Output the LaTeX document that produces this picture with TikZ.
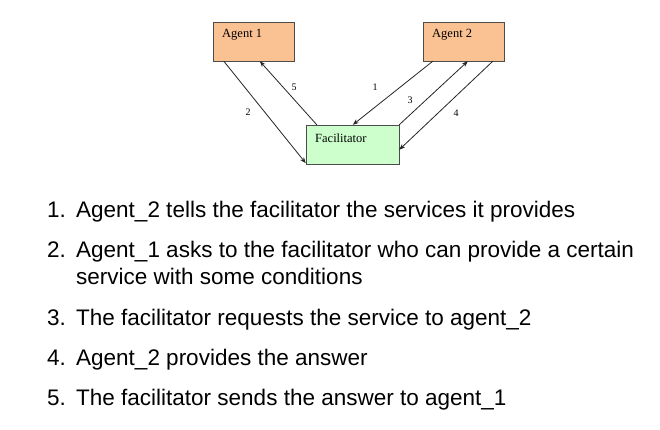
\documentclass[tikz,border=0pt]{standalone}
\usepackage{fontspec}
\setmainfont{Liberation Serif}
\newfontfamily\listfont{Liberation Sans}
\usetikzlibrary{arrows.meta}
\begin{document}
\begin{tikzpicture}[x=1pt,y=-1pt,
  agentbox/.style={draw=black!70,fill=agentfill,minimum width=81pt,minimum height=39pt,inner sep=0pt},
  facbox/.style={draw=black!70,fill=facfill,minimum width=93pt,minimum height=39pt,inner sep=0pt},
  boxtext/.style={font=\fontsize{12.5}{14}\selectfont,anchor=west,inner sep=0pt},
  msg/.style={draw=black!85,line width=0.8pt,-{Stealth[length=6pt,width=4.5pt]}},
  numlabel/.style={font=\fontsize{10}{12}\selectfont,inner sep=0pt},
  item/.style={font=\listfont\fontsize{22.5}{27}\selectfont,anchor=base west,inner sep=0pt}]
\definecolor{agentfill}{HTML}{FAC193}
\definecolor{facfill}{HTML}{CCFFCC}
\useasboundingbox (0,0) rectangle (660,429);
\fill[white] (0,0) rectangle (660,429);
% boxes
\node[agentbox] (a1) at (253.5,41.5) {};
\node[agentbox] (a2) at (463.5,41.5) {};
\node[facbox] (fac) at (352.5,144.5) {};
\node[boxtext] (a1t) at (222,35) {Agent 1};
\node[boxtext] (a2t) at (432,35) {Agent 2};
\node[boxtext] (fact) at (315,138) {Facilitator};
% connector endpoints
\path (a1.south west) ++(11,0) coordinate (a1p2);
\path (a1.south west) ++(47,0) coordinate (a1p5);
\path (a2.south west) ++(10,0) coordinate (a2p1);
\path (a2.south west) ++(45,0) coordinate (a2p3);
\path (a2.south west) ++(70,0) coordinate (a2p4);
\path (fac.south west) ++(0,-1) coordinate (fp2);
\path (fac.north west) ++(11,0) coordinate (fp5);
\path (fac.north west) ++(47,0) coordinate (fp1);
\path (fac.north east) coordinate (fp3);
\path (fac.north east) ++(0,25) coordinate (fp4);
\draw[msg] (a1p2) -- (fp2);
\draw[msg] (fp5) -- (a1p5);
\draw[msg] (a2p1) -- (fp1);
\draw[msg] (fp3) -- (a2p3);
\draw[msg] (a2p4) -- (fp4);
\node[numlabel] (l2) at (248,112) {2};
\node[numlabel] (l5) at (294,87) {5};
\node[numlabel] (l1) at (375,87) {1};
\node[numlabel] (l3) at (410,100) {3};
\node[numlabel] (l4) at (456,113) {4};
% list
\node[item] (n1) at (47,217) {1.};
\node[item] (t1) at (76,217) {Agent\_2 tells the facilitator the services it provides};
\node[item] (n2) at (47,257) {2.};
\node[item] (t2) at (76,257) {Agent\_1 asks to the facilitator who can provide a certain};
\node[item] (t2b) at (76,284) {service with some conditions};
\node[item] (n3) at (47,325) {3.};
\node[item] (t3) at (76,325) {The facilitator requests the service to agent\_2};
\node[item] (n4) at (47,365) {4.};
\node[item] (t4) at (76,365) {Agent\_2 provides the answer};
\node[item] (n5) at (47,405) {5.};
\node[item] (t5) at (76,405) {The facilitator sends the answer to agent\_1};
\end{tikzpicture}
\end{document}
